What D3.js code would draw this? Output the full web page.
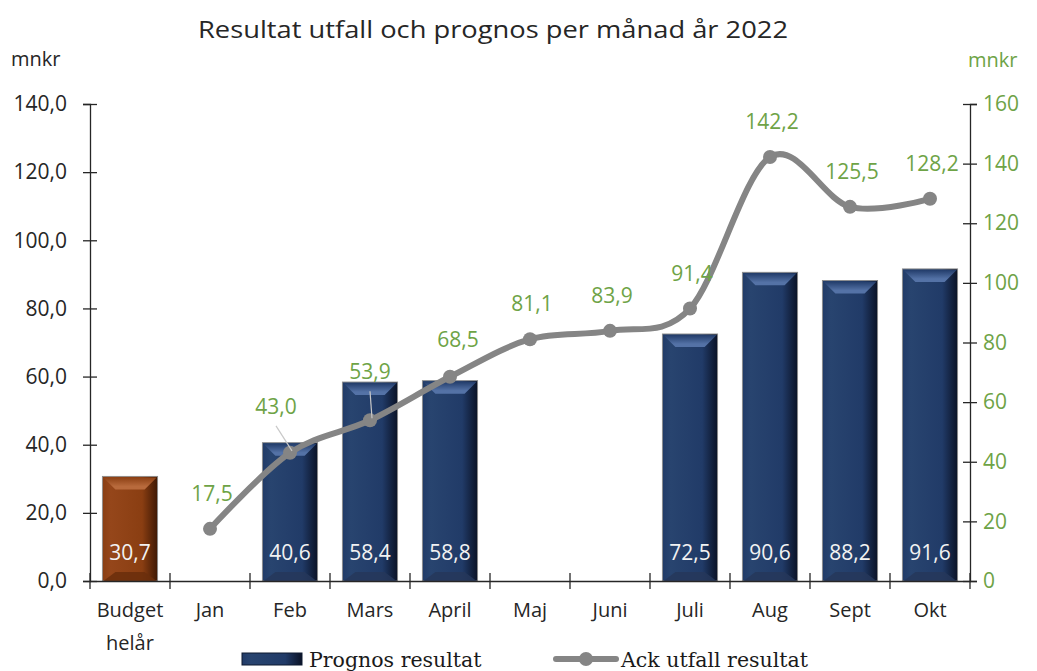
<!DOCTYPE html>
<html>
<head>
<meta charset="utf-8">
<script src="https://cdn.jsdelivr.net/npm/d3@7"></script>
<style>
  body { margin: 0; background: #fff; }
  text { font-family: "Open Sans", Lato, sans-serif; }
</style>
</head>
<body>
<div id="chart"></div>
<script>
// Data
const categories = ["Budget helår", "Jan", "Feb", "Mars", "April", "Maj", "Juni", "Juli", "Aug", "Sept", "Okt"];
const prognos = [30.7, null, 40.6, 58.4, 58.8, null, null, 72.5, 90.6, 88.2, 91.6];
const ackUtfall = [null, 17.5, 43.0, 53.9, 68.5, 81.1, 83.9, 91.4, 142.2, 125.5, 128.2];
const leftTicks = [0, 20, 40, 60, 80, 100, 120, 140];
const rightTicks = [0, 20, 40, 60, 80, 100, 120, 140, 160];

// label nudges for the line labels (dx, dy from the point)
const labelNudge = { "Feb": [-14, -39], "Mars": [0, -41], "April": [8, -30] };
const leaderFor = ["Feb", "Mars"];

const W = 1037, H = 671;
const margin = { top: 104, right: 67, bottom: 90, left: 90 };
const width = W - margin.left - margin.right,
      height = H - margin.top - margin.bottom;

const green = "#6ea346";
const lineGray = "#858585";
const ink = "#262626";

const sv = d3.formatLocale({ decimal: ",", thousands: " ", grouping: [3], currency: ["", " kr"] });
const fmt1 = sv.format(".1f");

const svg = d3.select("#chart").append("svg")
    .attr("width", W)
    .attr("height", H);

// gradients for the bevelled bars
const defs = svg.append("defs");
function barGradient(id, light, mid, dark) {
    const g = defs.append("linearGradient").attr("id", id).attr("x1", "0").attr("x2", "1").attr("y1", "0").attr("y2", "0");
    g.append("stop").attr("offset", "0%").attr("stop-color", mid);
    g.append("stop").attr("offset", "15%").attr("stop-color", light);
    g.append("stop").attr("offset", "72%").attr("stop-color", mid);
    g.append("stop").attr("offset", "100%").attr("stop-color", dark);
}
function topGradient(id, lo, hi) {
    const g = defs.append("linearGradient").attr("id", id).attr("x1", "0").attr("x2", "0").attr("y1", "0").attr("y2", "1");
    g.append("stop").attr("offset", "0%").attr("stop-color", lo);
    g.append("stop").attr("offset", "75%").attr("stop-color", hi);
    g.append("stop").attr("offset", "100%").attr("stop-color", hi);
}
barGradient("navyBody", "#28446f", "#213b68", "#0a1226");
topGradient("navyTop", "#223c6a", "#5472a6");
barGradient("brownBody", "#95461a", "#8a3e12", "#3e1804");
topGradient("brownTop", "#8c4014", "#b86a3c");

const g = svg.append("g")
    .attr("transform", `translate(${margin.left},${margin.top})`);

const x = d3.scaleBand()
    .domain(categories)
    .range([0, width])
    .paddingInner(0.31)
    .paddingOuter(0.155);

const yL = d3.scaleLinear().domain([0, 140]).range([height, 0]);
const yR = d3.scaleLinear().domain([0, 160]).range([height, 0]);

// title and unit labels
svg.append("text")
    .attr("x", 198).attr("y", 38)
    .attr("textLength", 590)
    .attr("lengthAdjust", "spacingAndGlyphs")
    .style("font-size", "24px")
    .style("fill", ink)
    .text("Resultat utfall och prognos per månad år 2022");

svg.append("text")
    .attr("x", 11).attr("y", 66)
    .style("font-size", "20px")
    .style("fill", ink)
    .text("mnkr");

svg.append("text")
    .attr("x", 968).attr("y", 67)
    .style("font-size", "20px")
    .style("fill", green)
    .text("mnkr");

// bars
const barData = categories.map((c, i) => ({ cat: c, v: prognos[i], budget: i === 0 }))
    .filter(d => d.v != null);

const bars = g.selectAll("g.bar")
    .data(barData)
    .enter()
    .append("g")
    .attr("class", "bar");

const bev = 13;
bars.append("rect")
    .attr("x", d => x(d.cat))
    .attr("y", d => yL(d.v))
    .attr("width", x.bandwidth())
    .attr("height", d => height - yL(d.v))
    .attr("fill", d => d.budget ? "url(#brownBody)" : "url(#navyBody)")
    .attr("stroke", "#8c8c8c")
    .attr("stroke-width", 0.9);

// top bevel
bars.append("path")
    .attr("d", d => {
        const x0 = x(d.cat), x1 = x0 + x.bandwidth(), y0 = yL(d.v);
        return `M${x0 + 1},${y0 + 1} L${x1 - 1},${y0 + 1} L${x1 - bev},${y0 + bev} L${x0 + bev},${y0 + bev} Z`;
    })
    .attr("fill", d => d.budget ? "url(#brownTop)" : "url(#navyTop)");

// bottom bevel
bars.append("path")
    .attr("d", d => {
        const x0 = x(d.cat), x1 = x0 + x.bandwidth(), y0 = height;
        return `M${x0 + 1},${y0} L${x1 - 1},${y0} L${x1 - bev},${y0 - 9} L${x0 + bev},${y0 - 9} Z`;
    })
    .attr("fill", d => d.budget ? "#6a2e0c" : "#26375a")
    .attr("opacity", 0.85);

bars.append("text")
    .attr("x", d => x(d.cat) + x.bandwidth() / 2)
    .attr("y", height - 21)
    .attr("text-anchor", "middle")
    .style("font-size", "21px")
    .style("fill", "#f2f2f2")
    .text(d => fmt1(d.v));

// axes
const axL = g.append("g")
    .call(d3.axisLeft(yL).tickValues(leftTicks).tickSize(7).tickPadding(16).tickFormat(fmt1));
axL.selectAll("line").attr("x1", 7);
axL.selectAll("text").style("font-size", "21px").style("fill", ink);

const axR = g.append("g")
    .attr("transform", `translate(${width},0)`)
    .call(d3.axisRight(yR).tickValues(rightTicks).tickSize(7).tickPadding(6).tickFormat(d3.format("d")));
axR.selectAll("line").attr("x1", -7);
axR.selectAll("text").style("font-size", "21px").style("fill", green);

[axL, axR].forEach(a => {
    a.select(".domain").attr("stroke", ink).attr("stroke-width", 1.3);
    a.selectAll(".tick line").attr("stroke", ink).attr("stroke-width", 1.3);
});

const axB = g.append("g")
    .attr("transform", `translate(0,${height})`)
    .call(d3.axisBottom(x).tickSize(0).tickFormat(""));
axB.select(".domain").attr("stroke", ink).attr("stroke-width", 1.3);

// category boundary ticks
axB.selectAll("line.sep")
    .data(d3.range(categories.length + 1))
    .enter()
    .append("line")
    .attr("class", "sep")
    .attr("x1", i => i * x.step())
    .attr("x2", i => i * x.step())
    .attr("y1", -8)
    .attr("y2", 8)
    .attr("stroke", ink)
    .attr("stroke-width", 1.3);

// category labels (Budget helår on two lines)
const catLabels = axB.selectAll("text.cat")
    .data(categories)
    .enter()
    .append("text")
    .attr("class", "cat")
    .attr("text-anchor", "middle")
    .style("font-size", "20px")
    .style("fill", ink);
catLabels.each(function(d) {
    const words = d.split(" ");
    const t = d3.select(this);
    words.forEach((w, j) => {
        t.append("tspan")
            .attr("x", x(d) + x.bandwidth() / 2)
            .attr("y", 36 + j * 33)
            .text(w);
    });
});

// line series
const lineData = categories.map((c, i) => ({ cat: c, v: ackUtfall[i] }))
    .filter(d => d.v != null);
const cx = d => x(d.cat) + x.bandwidth() / 2;

const line = d3.line()
    .x(cx)
    .y(d => yR(d.v))
    .curve(d3.curveCardinal.tension(0));

g.append("path")
    .datum(lineData)
    .attr("d", line)
    .attr("fill", "none")
    .attr("stroke", lineGray)
    .attr("stroke-width", 6)
    .attr("stroke-linecap", "round");

g.selectAll("circle.pt")
    .data(lineData)
    .enter()
    .append("circle")
    .attr("class", "pt")
    .attr("cx", cx)
    .attr("cy", d => yR(d.v))
    .attr("r", 7)
    .attr("fill", lineGray);

// leader lines
g.selectAll("line.leader")
    .data(lineData.filter(d => leaderFor.includes(d.cat)))
    .enter()
    .append("line")
    .attr("class", "leader")
    .attr("x1", d => cx(d) + labelNudge[d.cat][0])
    .attr("y1", d => yR(d.v) + labelNudge[d.cat][1] + 12)
    .attr("x2", d => cx(d) + 2)
    .attr("y2", d => yR(d.v) - 2)
    .attr("stroke", "#c8c8c8")
    .attr("stroke-width", 1.2);

g.selectAll("text.lbl")
    .data(lineData)
    .enter()
    .append("text")
    .attr("class", "lbl")
    .attr("x", d => cx(d) + (labelNudge[d.cat] || [2, -28])[0])
    .attr("y", d => yR(d.v) + (labelNudge[d.cat] || [2, -28])[1])
    .attr("text-anchor", "middle")
    .style("font-size", "21px")
    .style("fill", green)
    .text(d => fmt1(d.v));

// legend
const legend = svg.append("g");
legend.append("rect")
    .attr("x", 242).attr("y", 653)
    .attr("width", 60).attr("height", 12)
    .attr("fill", "url(#navyBody)")
    .attr("stroke", "#0e1a30");
legend.append("text")
    .attr("x", 309).attr("y", 667)
    .style("font-family", "'DejaVu Serif', serif")
    .style("font-size", "20.5px")
    .style("fill", "#1a1a1a")
    .text("Prognos resultat");

legend.append("line")
    .attr("x1", 556).attr("x2", 616)
    .attr("y1", 659).attr("y2", 659)
    .attr("stroke", lineGray)
    .attr("stroke-width", 6)
    .attr("stroke-linecap", "round");
legend.append("circle")
    .attr("cx", 586).attr("cy", 659).attr("r", 7)
    .attr("fill", lineGray);
legend.append("text")
    .attr("x", 621).attr("y", 667)
    .style("font-family", "'DejaVu Serif', serif")
    .style("font-size", "20.5px")
    .style("fill", "#1a1a1a")
    .text("Ack utfall resultat");
</script>
</body>
</html>
